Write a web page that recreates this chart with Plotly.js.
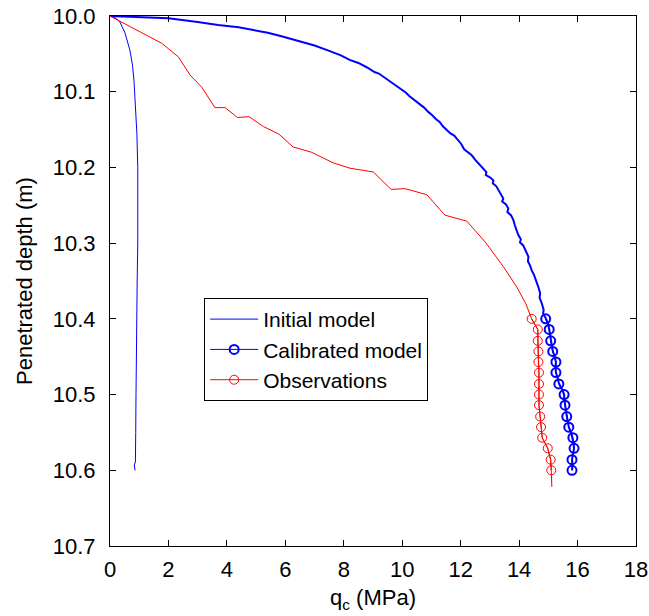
<!DOCTYPE html>
<html>
<head>
<meta charset="utf-8">
<script src="https://cdn.plot.ly/plotly-3.0.1.min.js"></script>
<style>html,body{margin:0;padding:0;background:#fff;}</style>
</head>
<body>
<div id="chart" style="width:649px;height:616px;"></div>
<script>
// Initial model
const initQc = [0,0.2,0.34,0.51,0.68,0.77,0.82,0.88,0.92,0.95,0.96,0.95,0.93,0.91,0.89,0.88,0.87,0.83,0.86];
const initDepth = [10.0,10.003,10.008,10.022,10.045,10.065,10.085,10.12,10.155,10.2,10.243,10.3,10.35,10.4,10.5,10.55,10.589,10.593,10.6];

// Calibrated model (full curve)
const calQc = [0,1.0,2.0,3.0,3.7,4.4,4.8,5.4,5.9,6.5,7.0,7.5,7.9,8.2,8.5,8.8,9.05,9.2,9.35,9.55,9.7,9.85,10.0,10.12,10.25,10.35,10.5,10.62,10.75,10.9,11.0,11.15,11.28,11.4,11.52,11.65,11.78,11.9,12.02,12.12,12.25,12.38,12.5,12.62,12.74,12.88,12.86,13.0,13.12,13.1,13.22,13.3,13.36,13.46,13.42,13.55,13.63,13.6,13.72,13.8,13.85,13.9,13.97,14.06,14.03,14.14,14.2,14.26,14.32,14.3,14.38,14.43,14.5,14.55,14.6,14.65,14.72,14.7,14.78,14.84,14.82,14.91,15.0,15.03,15.05,15.08,15.12,15.15,15.22,15.26,15.24,15.26,15.32,15.36,15.47,15.54,15.55,15.57,15.6,15.63,15.67,15.70,15.78,15.84,15.86,15.88,15.84,15.81,15.83,15.81];
const calDepth = [10.000,10.001,10.003,10.008,10.012,10.015,10.018,10.022,10.027,10.034,10.039,10.046,10.052,10.058,10.062,10.068,10.074,10.076,10.080,10.086,10.089,10.093,10.098,10.101,10.106,10.109,10.114,10.118,10.121,10.127,10.130,10.136,10.140,10.146,10.150,10.155,10.158,10.164,10.169,10.176,10.180,10.184,10.190,10.195,10.199,10.206,10.210,10.213,10.217,10.221,10.225,10.230,10.235,10.241,10.245,10.249,10.254,10.259,10.263,10.269,10.276,10.282,10.289,10.295,10.299,10.303,10.309,10.313,10.318,10.324,10.330,10.336,10.341,10.346,10.351,10.357,10.366,10.372,10.380,10.388,10.393,10.399,10.407,10.414,10.421,10.429,10.436,10.442,10.450,10.457,10.464,10.471,10.478,10.485,10.493,10.500,10.507,10.514,10.521,10.528,10.536,10.543,10.550,10.558,10.564,10.571,10.579,10.586,10.593,10.600];

// Calibrated model markers
const calMarkQc = [14.91,15.03,15.08,15.15,15.26,15.26,15.36,15.54,15.57,15.63,15.70,15.84,15.88,15.81,15.81];
const markDepth = [10.400,10.414,10.429,10.443,10.457,10.471,10.486,10.500,10.514,10.529,10.543,10.557,10.571,10.586,10.600];

// Observations (full curve)
const obsQc = [0,1.77,2.34,2.74,3.14,3.59,3.94,4.36,4.76,5.25,5.78,6.27,6.90,7.64,8.21,8.56,9.01,9.62,10.10,10.84,11.46,12.21,12.83,13.46,13.92,14.23,14.43,14.64,14.64,14.66,14.66,14.68,14.68,14.68,14.68,14.72,14.75,14.79,14.98,15.08,15.10,15.12];
const obsDepth = [10.0,10.036,10.054,10.078,10.094,10.121,10.121,10.134,10.133,10.146,10.156,10.173,10.180,10.194,10.201,10.203,10.206,10.229,10.228,10.236,10.263,10.271,10.298,10.331,10.358,10.380,10.400,10.414,10.429,10.443,10.457,10.471,10.486,10.500,10.514,10.529,10.543,10.557,10.571,10.586,10.600,10.622];

// Observation markers
const obsMarkQc = [14.43,14.64,14.64,14.66,14.66,14.68,14.68,14.68,14.68,14.72,14.75,14.79,14.98,15.08,15.10];

const xTicks = [0,2,4,6,8,10,12,14,16,18];
const yTicks = [10.0,10.1,10.2,10.3,10.4,10.5,10.6,10.7];
const yTickText = ['10.0','10.1','10.2','10.3','10.4','10.5','10.6','10.7'];

const BLUE = '#0000ff', RED = '#ff0000';
const FONT = 'Liberation Sans, Arial, sans-serif';

const traces = [
  {x: initQc, y: initDepth, mode: 'lines', name: 'Initial model',
   line: {color: BLUE, width: 1}},
  {x: calQc, y: calDepth, mode: 'lines', name: 'Calibrated model', showlegend: false,
   legendgroup: 'cal', line: {color: BLUE, width: 2}},
  {x: calMarkQc, y: markDepth, mode: 'lines+markers', name: 'Calibrated model', legendgroup: 'cal',
   line: {color: BLUE, width: 1},
   marker: {symbol: 'circle-open', size: 9, color: BLUE, line: {width: 2, color: BLUE}}},
  {x: obsQc, y: obsDepth, mode: 'lines', name: 'Observations', showlegend: false,
   legendgroup: 'obs', line: {color: RED, width: 1}},
  {x: obsMarkQc, y: markDepth, mode: 'lines+markers', name: 'Observations', legendgroup: 'obs',
   line: {color: RED, width: 1},
   marker: {symbol: 'circle-open', size: 9, color: RED, line: {width: 1, color: RED}}}
];

const axisCommon = {
  showline: true, linecolor: '#000', linewidth: 1, mirror: 'ticks',
  ticks: 'inside', ticklen: 6, tickwidth: 1, tickcolor: '#000',
  showgrid: false, zeroline: false,
  tickfont: {family: FONT, size: 22, color: '#000'}
};

const layout = {
  width: 649, height: 616,
  margin: {l: 110, r: 13, t: 16, b: 70},
  paper_bgcolor: '#fff', plot_bgcolor: '#fff',
  font: {family: FONT, color: '#000'},
  xaxis: Object.assign({}, axisCommon, {
    range: [0, 18], tickvals: xTicks, ticklabelstandoff: 4,
    title: {text: 'q<sub>c</sub> (MPa)', font: {family: FONT, size: 22, color: '#000'}, standoff: 8}
  }),
  yaxis: Object.assign({}, axisCommon, {
    range: [10.7, 10.0], tickvals: yTicks, ticktext: yTickText, ticklabelstandoff: 9,
    title: {text: 'Penetrated depth (m)', font: {family: FONT, size: 22, color: '#000'}, standoff: 14}
  }),
  legend: {
    x: 0.179, y: 0.468, xanchor: 'left', yanchor: 'top',
    bgcolor: '#fff', bordercolor: '#000', borderwidth: 1,
    font: {family: FONT, size: 21, color: '#000'},
    tracegroupgap: 0, itemwidth: 48
  },
  showlegend: true
};

Plotly.newPlot('chart', traces, layout, {displayModeBar: false, staticPlot: true});
</script>
</body>
</html>
